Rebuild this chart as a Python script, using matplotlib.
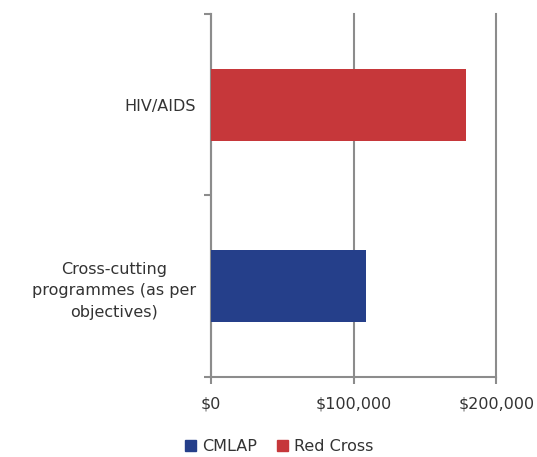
import matplotlib
matplotlib.use("Agg")
import matplotlib.pyplot as plt
from matplotlib.ticker import FuncFormatter
from matplotlib.patches import Patch

categories = ["Cross-cutting\nprogrammes (as per\nobjectives)", "HIV/AIDS"]
cmlap = [108500, 0]
red_cross = [0, 179000]
series_names = ["CMLAP", "Red Cross"]
colors = ["#253F8A", "#C6373A"]
x_ticks = [0, 100000, 200000]

plt.rcParams['font.family'] = ['DejaVu Sans']
grey = "#8C8C8C"
txt = "#333333"

fig = plt.figure(figsize=(5.37, 4.57), dpi=100)
ax = fig.add_axes([0.393, 0.176, 0.531, 0.793])

pos = range(len(categories))
ax.barh(pos, cmlap, height=0.4, color=colors[0], zorder=3)
ax.barh(pos, red_cross, left=cmlap, height=0.4, color=colors[1], zorder=3)

ax.set_xlim(0, 200000)
ax.set_ylim(-0.5, 1.5)
ax.set_xticks(x_ticks)
ax.xaxis.set_major_formatter(FuncFormatter(lambda v, p: "${:,.0f}".format(v)))
ax.set_yticks([-0.5, 0.5, 1.5])
ax.set_yticklabels([])
ax.set_yticks(list(pos), minor=True)
ax.set_yticklabels(categories, minor=True, fontsize=11.5, color=txt,
                   multialignment="center", linespacing=1.55)
ax.tick_params(axis="y", which="minor", length=0, pad=11)
ax.tick_params(axis="y", which="major", length=5, width=1.5, color=grey)
ax.tick_params(axis="x", length=5, width=1.5, color=grey, labelsize=11.5, labelcolor=txt, pad=9)

ax.grid(axis="x", color=grey, linewidth=1.5, zorder=0)
for gl in ax.get_xgridlines():
    gl.set_clip_on(False)
for s in ["top", "right"]:
    ax.spines[s].set_visible(False)
for s in ["left", "bottom"]:
    ax.spines[s].set_color(grey)
    ax.spines[s].set_linewidth(1.5)

handles = [Patch(color=c) for c in colors]
leg = fig.legend(handles, series_names, loc="lower center", bbox_to_anchor=(0.52, -0.025), ncol=2,
                 frameon=False, fontsize=11.5, handlelength=0.7, handleheight=0.7,
                 handletextpad=0.4, columnspacing=1.2)
for t in leg.get_texts():
    t.set_color(txt)

fig.savefig("out.png", dpi=100)
